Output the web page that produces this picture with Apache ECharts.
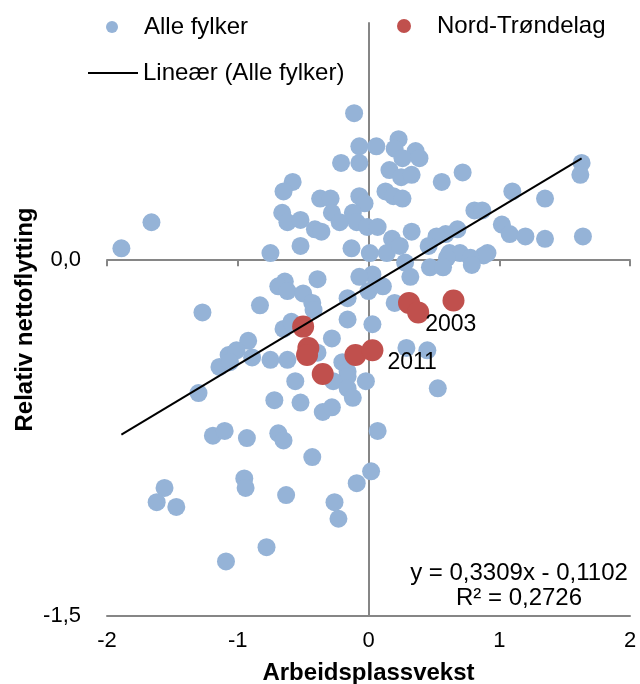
<!DOCTYPE html>
<html>
<head>
<meta charset="utf-8">
<script src="https://cdn.jsdelivr.net/npm/echarts@6/dist/echarts.min.js"></script>
<style>
  html, body { margin: 0; padding: 0; background: #fff; }
  #chart { width: 640px; height: 684px; }
</style>
</head>
<body>
<div id="chart"></div>
<script>
// Alle fylker: [arbeidsplassvekst, relativ nettoflytting]
const alleFylker = [
  [-0.11, 0.62], [0.23, 0.51], [0.06, 0.48], [-0.07, 0.48], [0.20, 0.47], [0.36, 0.46],
  [0.26, 0.43], [0.39, 0.43], [-0.21, 0.41], [-0.07, 0.41], [0.16, 0.38], [0.25, 0.35],
  [0.33, 0.36], [0.56, 0.33], [0.72, 0.37], [1.63, 0.41], [1.62, 0.36], [-0.58, 0.33],
  [-0.65, 0.29], [0.13, 0.29], [0.19, 0.27], [0.26, 0.26], [-0.37, 0.26], [-0.29, 0.26],
  [-0.07, 0.27], [-0.03, 0.24], [1.10, 0.29], [1.35, 0.26], [0.81, 0.21], [0.87, 0.21],
  [-0.66, 0.20], [-0.62, 0.16], [-0.52, 0.17], [-0.41, 0.13], [-0.36, 0.12], [-0.28, 0.20],
  [-0.22, 0.16], [-0.12, 0.20], [-0.09, 0.16], [-0.01, 0.14], [0.07, 0.14], [1.02, 0.15],
  [1.08, 0.11], [1.20, 0.10], [1.35, 0.09], [1.64, 0.10], [0.68, 0.13], [0.59, 0.11],
  [0.52, 0.10], [0.46, 0.06], [0.33, 0.12], [0.18, 0.09], [0.01, 0.03], [0.14, 0.03],
  [0.24, 0.06], [0.62, 0.03], [0.70, 0.03], [0.91, 0.03], [0.88, 0.02], [-0.52, 0.06],
  [-0.13, 0.05], [-0.75, 0.03], [-1.89, 0.05], [-1.66, 0.16], [0.60, 0.01], [0.78, 0.01],
  [0.28, -0.01], [0.79, -0.02], [0.47, -0.03], [0.57, -0.03], [0.32, -0.07], [0.03, -0.06],
  [-0.07, -0.07], [0.11, -0.11], [0.00, -0.13], [0.20, -0.18], [-0.16, -0.16], [-0.39, -0.08],
  [-0.64, -0.09], [-0.69, -0.11], [-0.62, -0.13], [-0.50, -0.14], [-0.43, -0.18], [-0.83, -0.19],
  [-0.42, -0.21], [-1.27, -0.22], [-0.16, -0.25], [0.03, -0.27], [-0.65, -0.29], [-0.59, -0.26],
  [-0.28, -0.33], [-0.92, -0.34], [-1.07, -0.40], [-1.01, -0.38], [-1.14, -0.45], [-1.06, -0.43],
  [-0.89, -0.41], [-0.75, -0.42], [-0.62, -0.42], [-0.39, -0.39], [-0.20, -0.43], [-0.16, -0.47],
  [-0.16, -0.49], [-0.02, -0.51], [-0.56, -0.51], [-0.27, -0.51], [-0.16, -0.54], [-0.12, -0.58],
  [-0.72, -0.59], [-0.52, -0.60], [-0.35, -0.64], [-0.28, -0.62], [-1.30, -0.56], [0.29, -0.37],
  [0.45, -0.38], [0.53, -0.54], [0.07, -0.72], [-1.19, -0.74], [-1.10, -0.72], [-0.93, -0.75],
  [-0.69, -0.73], [-0.65, -0.76], [-0.43, -0.83], [-0.95, -0.92], [-0.94, -0.96], [-0.09, -0.94],
  [0.02, -0.89], [-1.56, -0.96], [-1.62, -1.02], [-1.47, -1.04], [-0.63, -0.99], [-0.26, -1.02],
  [-0.23, -1.09], [-1.09, -1.27], [-0.78, -1.21]
];

// Nord-Trøndelag, same axes; years only for the two labelled points
const nordTrondelag = [
  [-0.50, -0.28], [-0.46, -0.37], [-0.47, -0.40], [-0.35, -0.48], [-0.10, -0.40],
  [0.03, -0.38], [0.31, -0.18], [0.38, -0.22], [0.65, -0.17]
];
const nordLabels = ['', '', '', '', '', '2011', '', '2003', ''];

// lineær trend (Excel)
const slope = 0.3309;
const intercept = -0.1102;
const rSquared = 0.2726;
const trendFrom = -1.89;
const trendTo = 1.63;

const xTicks = { min: -2, max: 2, interval: 1 };
const yTicks = { min: -1.5, max: 1, interval: 1.5 };

const fmt = (v, d) => v.toFixed(d).replace('.', ',');
const axisGray = '#868686';
const font = 'Liberation Sans, Arial, sans-serif';

const chart = echarts.init(document.getElementById('chart'));

const trendData = [trendFrom, trendTo].map(x => [x, slope * x + intercept]);

const legendText = { color: '#000', fontSize: 24, fontFamily: font };

chart.setOption({
  animation: false,
  textStyle: { fontFamily: font },
  grid: { left: 107, right: 10, top: 23, bottom: 68, outerBoundsMode: 'none', containLabel: false },
  legend: [
    { data: ['Alle fylker'], left: 101, top: 10, icon: 'circle', itemWidth: 54, itemHeight: 12, textStyle: legendText },
    { data: ['Nord-Trøndelag'], left: 392, top: 9, icon: 'circle', itemWidth: 56, itemHeight: 14, textStyle: legendText },
    { data: ['Lineær (Alle fylker)'], left: 83, top: 56, icon: 'rect', symbolKeepAspect: false, itemWidth: 50, itemHeight: 2, textStyle: legendText }
  ],
  xAxis: [
    {
      type: 'value', min: xTicks.min, max: xTicks.max, interval: xTicks.interval,
      axisLine: { onZero: true, lineStyle: { color: axisGray, width: 2 } },
      axisTick: { show: true, length: 6, lineStyle: { color: axisGray, width: 2 } },
      axisLabel: { show: false },
      splitLine: { show: false }
    },
    {
      type: 'value', position: 'bottom', min: xTicks.min, max: xTicks.max, interval: xTicks.interval,
      axisLine: { show: true, onZero: false, lineStyle: { color: axisGray, width: 2 } },
      axisTick: { show: false },
      axisLabel: { color: '#000', fontSize: 22, margin: 14, formatter: v => fmt(v, 0) },
      splitLine: { show: false },
      name: 'Arbeidsplassvekst', nameLocation: 'middle', nameGap: 45, nameMoveOverlap: false,
      nameTextStyle: { color: '#000', fontSize: 24, fontWeight: 'bold' }
    }
  ],
  yAxis: [
    {
      type: 'value', min: yTicks.min, max: yTicks.max, interval: yTicks.interval,
      axisLine: { show: true, onZero: true, lineStyle: { color: axisGray, width: 2 } },
      axisTick: { show: false },
      axisLabel: { show: false },
      splitLine: { show: false }
    },
    {
      type: 'value', position: 'left', min: yTicks.min, max: yTicks.max, interval: yTicks.interval,
      axisLine: { show: false, onZero: false },
      axisTick: { show: false },
      axisLabel: {
        color: '#000', fontSize: 22, margin: 26,
        formatter: v => (v === 0 || v === -1.5) ? fmt(v, 1) : ''
      },
      splitLine: { show: false },
      name: 'Relativ nettoflytting', nameLocation: 'middle', nameGap: 70, nameRotate: 90, nameMoveOverlap: false,
      nameTextStyle: { color: '#000', fontSize: 24, fontWeight: 'bold' }
    }
  ],
  graphic: [
    {
      type: 'text', x: 519, y: 561,
      style: {
        text: 'y = ' + fmt(slope, 4) + 'x - ' + fmt(-intercept, 4) + '\nR² = ' + fmt(rSquared, 4),
        fill: '#000', font: '24px ' + font, align: 'center', lineHeight: 25
      }
    }
  ],
  series: [
    {
      name: 'Alle fylker', type: 'scatter', xAxisIndex: 0, yAxisIndex: 0,
      data: alleFylker, symbolSize: 18,
      itemStyle: { color: '#95B3D7', opacity: 1 }
    },
    {
      name: 'Nord-Trøndelag', type: 'scatter', xAxisIndex: 0, yAxisIndex: 0,
      data: nordTrondelag.map((p, i) => ({
        value: p,
        label: {
          show: nordLabels[i] !== '', formatter: nordLabels[i], position: 'right',
          offset: nordLabels[i] === '2003' ? [-9, 12] : [-1, 12],
          color: '#000', fontSize: 23
        }
      })),
      symbolSize: 22,
      itemStyle: { color: '#C0504D', opacity: 1 }
    },
    {
      name: 'Lineær (Alle fylker)', type: 'line', xAxisIndex: 0, yAxisIndex: 0,
      data: trendData, showSymbol: false, symbol: 'none',
      lineStyle: { color: '#000', width: 2 },
      itemStyle: { color: '#000' },
      z: 5
    }
  ]
});
</script>
</body>
</html>
